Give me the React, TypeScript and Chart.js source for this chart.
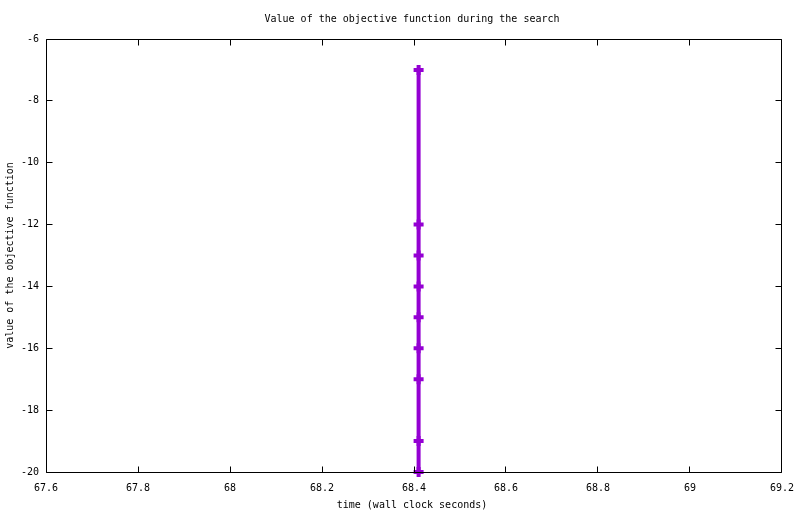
import React, { useEffect, useRef } from "react";
import { Chart, registerables } from "chart.js";

Chart.register(...registerables);

const TITLE = "Value of the objective function during the search";
const X_LABEL = "time (wall clock seconds)";
const Y_LABEL = "value of the objective function";

const timeValues = [68.41, 68.41, 68.41, 68.41, 68.41, 68.41, 68.41, 68.41, 68.41];
const objectiveValues = [-7, -12, -13, -14, -15, -16, -17, -19, -20];

const xTicks = [67.6, 67.8, 68, 68.2, 68.4, 68.6, 68.8, 69, 69.2];
const yTicks = [-6, -8, -10, -12, -14, -16, -18, -20];

const FONT_FAMILY = "'DejaVu Sans Mono', monospace";
const LINE_COLOR = "#9400d3";

const framePlugin = {
  id: "gnuplotFrame",
  afterDraw(chart: any) {
    const { ctx, chartArea } = chart;
    const xs = chart.scales.x;
    const ys = chart.scales.y;
    const l = Math.floor(chartArea.left) + 0.5;
    const r = Math.ceil(chartArea.right) - 0.5;
    const t = Math.floor(chartArea.top) + 0.5;
    const b = Math.floor(chartArea.bottom) + 0.5;
    const tick = 6;
    ctx.save();
    ctx.strokeStyle = "#000";
    ctx.lineWidth = 1;
    ctx.beginPath();
    ctx.rect(l, t, r - l, b - t);
    for (const v of xTicks) {
      const px = Math.min(r, Math.max(l, Math.floor(xs.getPixelForValue(v)) + 0.5));
      ctx.moveTo(px, b);
      ctx.lineTo(px, b - tick);
      ctx.moveTo(px, t);
      ctx.lineTo(px, t + tick);
    }
    for (const v of yTicks) {
      const py = Math.min(b, Math.max(t, Math.floor(ys.getPixelForValue(v)) + 0.5));
      ctx.moveTo(l, py);
      ctx.lineTo(l + tick, py);
      ctx.moveTo(r, py);
      ctx.lineTo(r - tick, py);
    }
    ctx.stroke();

    ctx.fillStyle = "#000";
    ctx.font = `10px ${FONT_FAMILY}`;
    ctx.textAlign = "center";
    ctx.textBaseline = "middle";
    ctx.fillText(TITLE, 412, 19);
    ctx.fillText(X_LABEL, 412, 505);
    ctx.translate(10, (chartArea.top + chartArea.bottom) / 2);
    ctx.rotate(-Math.PI / 2);
    ctx.fillText(Y_LABEL, 0, 0);
    ctx.restore();
  },
};

const fmt = (v: number) => String(Number(Number(v).toFixed(1)));

export default function App() {
  const canvasRef = useRef<HTMLCanvasElement | null>(null);

  useEffect(() => {
    if (!canvasRef.current) return;
    const chart = new Chart(canvasRef.current, {
      type: "line",
      data: {
        datasets: [
          {
            data: timeValues.map((t, i) => ({ x: t, y: objectiveValues[i] })),
            borderColor: LINE_COLOR,
            backgroundColor: LINE_COLOR,
            borderWidth: 4,
            pointStyle: "cross",
            pointRadius: 5,
            pointBorderWidth: 4,
            pointBorderColor: LINE_COLOR,
            pointHoverRadius: 5,
            fill: false,
            tension: 0,
            clip: false,
          } as any,
        ],
      },
      options: {
        animation: false,
        responsive: false,
        devicePixelRatio: 1,
        events: [],
        layout: { padding: { left: 0, top: 39, right: 18, bottom: 0 } },
        plugins: {
          legend: { display: false },
          title: { display: false },
          tooltip: { enabled: false },
        },
        scales: {
          x: {
            type: "linear",
            min: xTicks[0],
            max: xTicks[xTicks.length - 1],
            grid: { display: false, drawTicks: false },
            border: { display: false },
            afterBuildTicks: (scale: any) => {
              scale.ticks = xTicks.map((v) => ({ value: v }));
            },
            afterFit: (scale: any) => {
              scale.height = 42;
              scale.paddingLeft = 0;
              scale.paddingRight = 0;
            },
            ticks: {
              padding: 10,
              maxRotation: 0,
              autoSkip: false,
              color: "#000",
              font: { family: FONT_FAMILY, size: 10 },
              callback: (v: any) => fmt(v),
            },
          },
          y: {
            type: "linear",
            min: -20,
            max: -6,
            grid: { display: false, drawTicks: false },
            border: { display: false },
            afterBuildTicks: (scale: any) => {
              scale.ticks = yTicks.map((v) => ({ value: v }));
            },
            afterFit: (scale: any) => {
              scale.width = 46;
              scale.paddingTop = 0;
              scale.paddingBottom = 0;
            },
            ticks: {
              padding: 7,
              autoSkip: false,
              color: "#000",
              font: { family: FONT_FAMILY, size: 10 },
              callback: (v: any) => fmt(v),
            },
          },
        },
      },
      plugins: [framePlugin],
    });
    return () => chart.destroy();
  }, []);

  return (
    <div style={{ position: "fixed", left: 0, top: 0, width: 800, height: 514, background: "#fff" }}>
      <canvas ref={canvasRef} width={800} height={514} style={{ width: 800, height: 514 }} />
    </div>
  );
}
